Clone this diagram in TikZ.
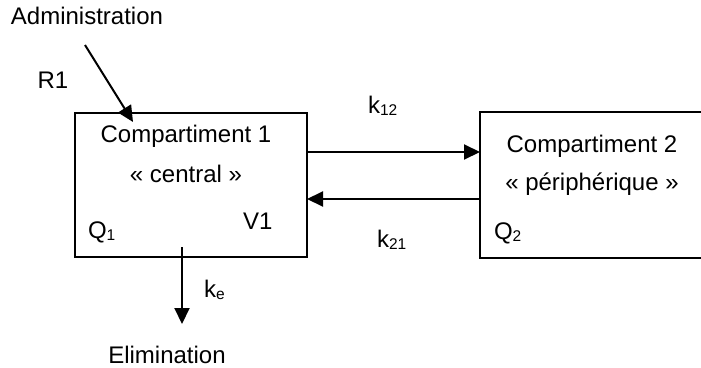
\documentclass[tikz,border=0pt]{standalone}
\usepackage{fontspec}
\setmainfont{Liberation Sans}
\usetikzlibrary{arrows.meta}
\newcommand{\sbs}[1]{\raisebox{-0.12em}{\fontsize{15.5}{15.5}\selectfont #1}}
\begin{document}
\begin{tikzpicture}[x=1pt,y=-1pt,
  every node/.style={inner sep=0pt,outer sep=0pt,font=\fontsize{24}{28}\selectfont},
  lbl/.style={anchor=base west},
  lblc/.style={anchor=base},
  arr/.style={line width=2pt,-{Triangle[length=16pt,width=15pt]}},
  boxline/.style={line width=1.9pt}]
\useasboundingbox (0,0) rectangle (701,367);
% boxes
\node[draw,boxline,minimum width=232pt,minimum height=144pt,anchor=north west] (b1) at (75,113) {};
\node[minimum width=226pt,minimum height=146pt,anchor=north west] (b2) at (480,112) {};
\draw[boxline] (b2.north east) -- (b2.north west) -- (b2.south west) -- (b2.south east);
% texts
\node[lblc] (adm) at (87,24) {Administration};
\node[lblc] (r1) at (53,88) {R1};
\node[lblc] (c1) at (186,142) {Compartiment 1};
\node[lblc] (cen) at (186,182) {« central »};
\node[lbl] (q1) at (88,238) {Q\sbs{1}};
\node[lbl] (v1) at (243,229) {V1};
\node[lbl] (ke) at (204,297) {k\sbs{e}};
\node[lblc] (elim) at (167,363) {Elimination};
\node[lbl] (k12) at (368,113) {k\sbs{12}};
\node[lbl] (k21) at (377,247) {k\sbs{21}};
\node[lblc] (c2) at (592,152) {Compartiment 2};
\node[lblc] (per) at (592,190) {« périphérique »};
\node[lbl] (q2) at (494,239) {Q\sbs{2}};
% connectors
\coordinate (admstart) at (85,45);
\coordinate (admend) at (133,122);
\draw[arr] (admstart) -- (admend);
\coordinate (elimstart) at (182,247);
\coordinate (elimend) at (182,324);
\draw[arr] (elimstart) -- (elimend);
\coordinate (y12) at (0,152);
\coordinate (y21) at (0,199);
\draw[arr] (b1.east |- y12) -- (b2.west |- y12);
\draw[arr] (b2.west |- y21) -- (b1.east |- y21);
\end{tikzpicture}
\end{document}
